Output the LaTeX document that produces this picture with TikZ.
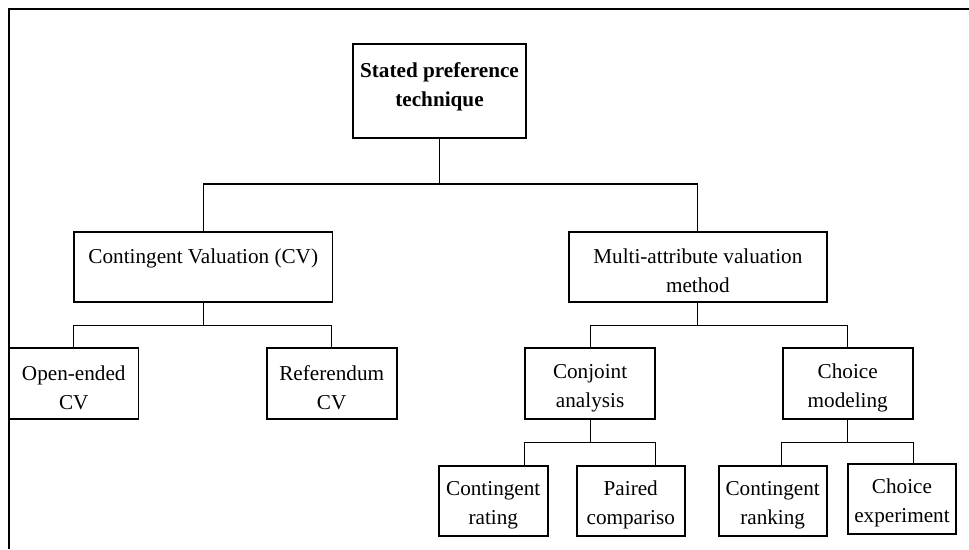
\documentclass[tikz,border=0pt]{standalone}
\usepackage{fontspec}
\setmainfont{Liberation Serif}
\newcommand{\tpstrut}{\rule{0pt}{22.5pt}}
\begin{document}
\begin{tikzpicture}[x=1pt,y=-1pt,
  box/.style={draw, line width=1.8pt, inner sep=0pt, align=center,
    font=\fontsize{21.2}{28.7}\selectfont},
  conn/.style={line width=1.1pt},
  frame/.style={line width=1.6pt}]
\useasboundingbox (0,0) rectangle (969,549);
% frame
\coordinate (fr0) at (9,549);
\coordinate (fr1) at (9,9);
\coordinate (fr2) at (969,9);
\draw[frame] (fr0) -- (fr1) -- (fr2);
% nodes
\node[box, minimum width=172.4pt, minimum height=94.3pt, font=\fontsize{21.2}{29}\selectfont\bfseries] (top) at (439.5,91.2) {Stated preference\\technique\rule[-13pt]{0pt}{13pt}};
\node[box, minimum width=258.5pt, minimum height=70.3pt] (cv) at (203.25,266.9) {\tpstrut Contingent Valuation (CV)\\\mbox{}};
\node[box, minimum width=258.4pt, minimum height=70.3pt] (mav) at (697.8,266.9) {\tpstrut Multi-attribute valuation\\method};
\node[box, minimum width=129.5pt, minimum height=71pt] (oe) at (73.75,383.8) {\tpstrut Open-ended\\CV};
\node[box, minimum width=130pt, minimum height=71pt] (ref) at (331.7,383.8) {\tpstrut Referendum\\CV};
\node[box, minimum width=129.8pt, minimum height=71pt] (conj) at (590.1,383.8) {\tpstrut Conjoint\\analysis};
\node[box, minimum width=129.9pt, minimum height=71pt] (cm) at (847.75,383.8) {\tpstrut Choice\\modeling};
\node[box, minimum width=108.9pt, minimum height=70pt] (cr) at (493.25,501) {\tpstrut Contingent\\rating};
\node[box, minimum width=108.1pt, minimum height=70pt] (pc) at (630.75,501) {\tpstrut Paired\\compariso};
\node[box, minimum width=108.1pt, minimum height=70pt] (crk) at (772.65,501) {\tpstrut Contingent\\ranking};
\node[box, minimum width=107.9pt, minimum height=69.7pt] (ce) at (901.95,499.2) {\tpstrut Choice\\experiment};
% junction coordinates
\coordinate (j1) at (439.5,184);
\coordinate (j2) at (203,325.7);
\coordinate (j3) at (698,325.7);
\coordinate (j4) at (590,442.3);
\coordinate (j5) at (848,442.3);
% connectors
\draw[conn] (top.south) -- (j1);
\draw[conn] (cv.north) -- (cv.north |- j1) -- (mav.north |- j1) -- (mav.north);
\draw[conn] (cv.south) -- (cv.south |- j2);
\draw[conn] (oe.north) -- (oe.north |- j2) -- (ref.north |- j2) -- (ref.north);
\draw[conn] (mav.south) -- (mav.south |- j3);
\draw[conn] (conj.north) -- (conj.north |- j3) -- (cm.north |- j3) -- (cm.north);
\draw[conn] (conj.south) -- (conj.south |- j4);
\draw[conn] (cr.north -| conj.west) -- (conj.west |- j4) -- (conj.east |- j4) -- (pc.north -| conj.east);
\draw[conn] (cm.south) -- (cm.south |- j5);
\draw[conn] (crk.north -| cm.west) -- (cm.west |- j5) -- (cm.east |- j5) -- (ce.north -| cm.east);
\end{tikzpicture}
\end{document}
